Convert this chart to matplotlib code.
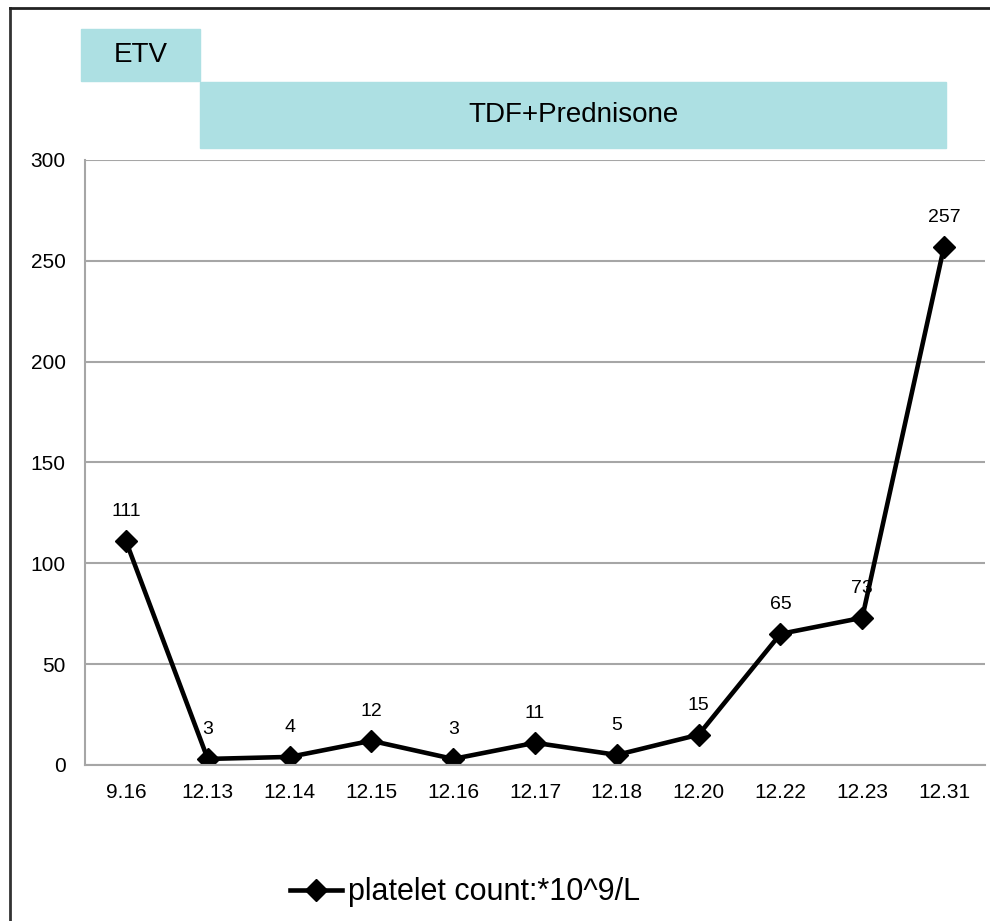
import matplotlib
matplotlib.use('Agg')
import matplotlib.pyplot as plt
from matplotlib.patches import Rectangle
from matplotlib.lines import Line2D

plt.rcParams['font.family'] = ['Liberation Sans', 'DejaVu Sans']

dates = ['9.16', '12.13', '12.14', '12.15', '12.16', '12.17', '12.18',
         '12.20', '12.22', '12.23', '12.31']
platelet = [111, 3, 4, 12, 3, 11, 5, 15, 65, 73, 257]
yticks = [0, 50, 100, 150, 200, 250, 300]
legend_label = 'platelet count:*10^9/L'

bar_color = '#ade0e3'
grid_color = '#a6a6a6'

fig = plt.figure(figsize=(9.9, 9.21), dpi=100)
ax = fig.add_axes([0.0859, 0.1694, 0.909, 0.6569])

x = list(range(len(dates)))
line, = ax.plot(x, platelet, color='black', lw=3.3, marker='D', ms=11,
                label=legend_label)
for xi, v in zip(x, platelet):
    ax.annotate(str(v), (xi, v), xytext=(0, 21), textcoords='offset points',
                ha='center', va='center', fontsize=14)

ax.set_xlim(-0.5, len(dates) - 0.5)
ax.set_ylim(0, 300)
ax.set_yticks(yticks)
ax.set_xticks(x)
ax.set_xticklabels(dates)
ax.yaxis.grid(True, color=grid_color, lw=1.5)
ax.set_axisbelow(True)
for s in ['top', 'right']:
    ax.spines[s].set_visible(False)
for s in ['left', 'bottom']:
    ax.spines[s].set_color(grid_color)
    ax.spines[s].set_linewidth(1.5)
ax.tick_params(length=0, labelsize=15, pad=13)
ax.tick_params(axis='y', pad=14)

# treatment bars on top
fig.patches.append(Rectangle((0.0818, 0.912), 0.1202, 0.0565,
                             transform=fig.transFigure, color=bar_color))
fig.patches.append(Rectangle((0.202, 0.8393), 0.7536, 0.0717,
                             transform=fig.transFigure, color=bar_color))
fig.text(0.142, 0.9405, 'ETV', ha='center', va='center', fontsize=20)
fig.text(0.5788, 0.8755, 'TDF+Prednisone', ha='center', va='center', fontsize=20)

# frame lines
fig.add_artist(Line2D([0.0101, 0.0101], [0, 0.9913], transform=fig.transFigure,
                      color='#333333', lw=2))
fig.add_artist(Line2D([0.0101, 1.0], [0.9913, 0.9913], transform=fig.transFigure,
                      color='#222222', lw=2))

fig.legend(handles=[line], loc='center', bbox_to_anchor=(0.47, 0.031),
           frameon=False, fontsize=22, handlelength=1.7, handletextpad=0.2)

fig.savefig('out.png', dpi=100)
